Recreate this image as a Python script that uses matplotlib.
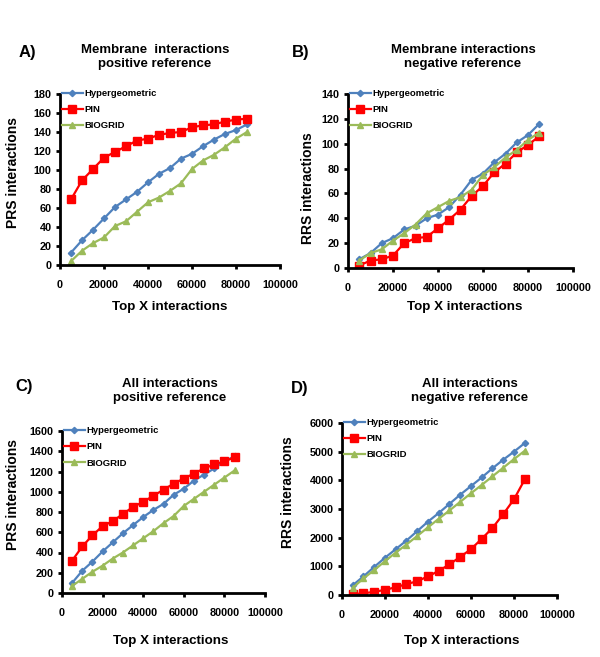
import matplotlib
matplotlib.use("Agg")
import matplotlib.pyplot as plt
from matplotlib.ticker import MultipleLocator
from matplotlib import font_manager

plt.rcParams['font.family'] = ['Liberation Sans', 'DejaVu Sans']
plt.rcParams['font.weight'] = 'bold'

names = {f.name for f in font_manager.fontManager.ttflist}
tick_family = ['Liberation Sans Narrow', 'Liberation Sans'] if 'Liberation Sans Narrow' in names else ['Liberation Sans']
tick_size = 8.5 if 'Liberation Sans Narrow' in names else 7.8

x_top = [5000, 10000, 15000, 20000, 25000, 30000, 35000, 40000, 45000, 50000,
         55000, 60000, 65000, 70000, 75000, 80000, 85000]
series_names = ["Hypergeometric", "PIN", "BIOGRID"]

# A) Membrane, positive reference
a_hyper = [13, 26, 37, 49, 61, 69, 77, 87, 96, 102, 112, 117, 125, 132, 138, 142, 148]
a_pin = [69, 89, 101, 113, 119, 125, 131, 133, 137, 139, 140, 145, 147, 148, 151, 153, 154]
a_bio = [4, 15, 23, 29, 41, 46, 56, 66, 71, 78, 86, 101, 110, 116, 124, 133, 140]

# B) Membrane, negative reference
b_hyper = [7, 12, 20, 24, 31, 34, 40, 43, 49, 59, 71, 76, 85, 92, 101, 107, 116]
b_pin = [2, 6, 7, 10, 20, 24, 25, 32, 39, 47, 58, 66, 77, 84, 93, 99, 106]
b_bio = [6, 12, 15, 22, 28, 35, 44, 49, 54, 57, 63, 75, 81, 89, 95, 103, 109]

# C) All, positive reference
c_hyper = [100, 220, 310, 410, 500, 590, 670, 750, 820, 880, 970, 1030, 1110, 1170, 1230, 1300, 1350]
c_pin = [320, 460, 570, 660, 710, 780, 850, 900, 960, 1020, 1080, 1130, 1180, 1230, 1270, 1300, 1340]
c_bio = [70, 140, 210, 270, 340, 400, 470, 540, 610, 690, 760, 860, 930, 1000, 1070, 1140, 1210]

# D) All, negative reference
d_hyper = [340, 650, 980, 1300, 1600, 1900, 2230, 2560, 2860, 3180, 3500, 3800, 4100, 4420, 4720, 5000, 5300]
d_pin = [30, 60, 110, 180, 270, 380, 480, 650, 840, 1070, 1330, 1600, 1960, 2340, 2820, 3340, 4030]
d_bio = [250, 580, 870, 1180, 1480, 1760, 2060, 2360, 2660, 2950, 3250, 3550, 3840, 4140, 4440, 4740, 5030]

W, H = 600, 657
fig = plt.figure(figsize=(6.0, 6.57), dpi=100)

def rect(l, r, t, b):
    return [l / W, 1 - b / H, (r - l) / W, (b - t) / H]

def ftext(x, y, s, **kw):
    fig.text(x / W, 1 - y / H, s, ha='center', va='center', fontweight='bold', **kw)

panels = [
    dict(rect=rect(60, 280, 94, 265), data=(a_hyper, a_pin, a_bio), ymax=180, ystep=20,
         label="A)", lab_xy=(27, 53), title="Membrane  interactions\npositive reference", t_xy=(155, 57),
         ylabel="PRS interactions", yl_xy=(13, 173), xl_xy=(170, 307)),
    dict(rect=rect(348, 573, 94, 268), data=(b_hyper, b_pin, b_bio), ymax=140, ystep=20,
         label="B)", lab_xy=(301, 53), title="Membrane interactions\nnegative reference", t_xy=(463, 57),
         ylabel="RRS interactions", yl_xy=(308, 188), xl_xy=(465, 307)),
    dict(rect=rect(62, 265, 431, 593), data=(c_hyper, c_pin, c_bio), ymax=1600, ystep=200,
         label="C)", lab_xy=(24, 387), title="All interactions\npositive reference", t_xy=(170, 391),
         ylabel="PRS interactions", yl_xy=(13, 494), xl_xy=(171, 641)),
    dict(rect=rect(342, 557, 423, 595), data=(d_hyper, d_pin, d_bio), ymax=6000, ystep=1000,
         label="D)", lab_xy=(300, 388), title="All interactions\nnegative reference", t_xy=(470, 391),
         ylabel="RRS interactions", yl_xy=(288, 492), xl_xy=(462, 641)),
]

colors = ["#4F81BD", "#FF0000", "#9BBB59"]
markers = ["D", "s", "^"]
msizes = [3.2, 5.5, 4.5]

for p in panels:
    ax = fig.add_axes(p['rect'])
    for vals, name, c, m, ms in zip(p['data'], series_names, colors, markers, msizes):
        ax.plot(x_top, vals, color=c, marker=m, markersize=ms, linewidth=1.6, label=name,
                markeredgecolor=c)
    ax.set_xlim(0, 100000)
    ax.set_ylim(0, p['ymax'])
    ax.xaxis.set_major_locator(MultipleLocator(20000))
    ax.yaxis.set_major_locator(MultipleLocator(p['ystep']))
    for s in ['top', 'right']:
        ax.spines[s].set_visible(False)
    for s in ['left', 'bottom']:
        ax.spines[s].set_linewidth(2.0)
    ax.spines['left'].set_capstyle('projecting')
    ax.tick_params(direction='out', length=3, width=2.0, pad=3)
    for lbl in ax.get_xticklabels() + ax.get_yticklabels():
        lbl.set_fontweight('bold')
        lbl.set_family(tick_family)
        lbl.set_fontsize(tick_size)
    ax.xaxis.set_tick_params(pad=8)
    ax.legend(loc='upper left', bbox_to_anchor=(0.0, 1.04), frameon=False,
              prop={'size': 6.8, 'weight': 'bold'}, handlelength=2.2, handletextpad=0.2,
              labelspacing=0.75, borderaxespad=0.0, borderpad=0.2)
    ftext(*p['lab_xy'], p['label'], fontsize=12)
    ftext(*p['t_xy'], p['title'], fontsize=9.5, linespacing=1.2)
    ftext(*p['yl_xy'], p['ylabel'], fontsize=10, rotation=90)
    ftext(*p['xl_xy'], "Top X interactions", fontsize=9.6)

fig.savefig("out.png", dpi=100)
